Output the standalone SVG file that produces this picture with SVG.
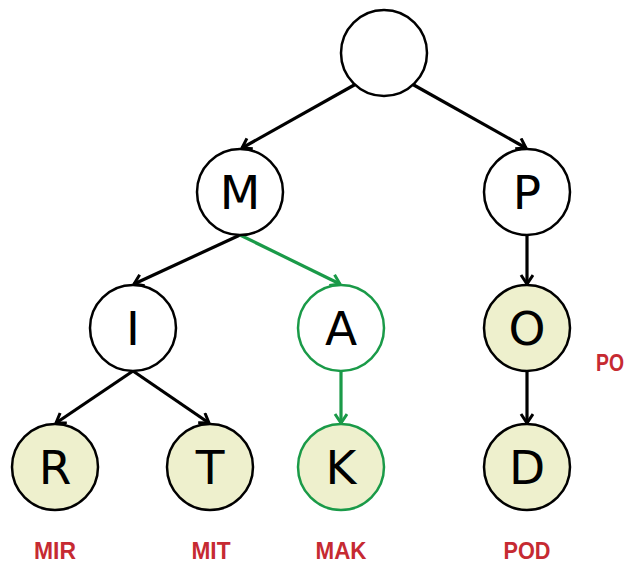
<svg xmlns="http://www.w3.org/2000/svg" width="631" height="563" viewBox="0 0 631 563">
<style>
.n{fill:#fff;stroke:#000;stroke-width:2.5}
.leaf{fill:#eef0cd}
.g{stroke:#1a9a48}
.t{font-family:"DejaVu Sans","Liberation Sans",sans-serif;font-size:47px;text-anchor:middle;fill:#000}
.e{fill:none;stroke:#000;stroke-width:3.2}
.eg{stroke:#1a9a48}
.lbl{font-family:"Liberation Sans Narrow","Liberation Sans",sans-serif;font-weight:bold;font-size:24px;fill:#c62a32;text-anchor:middle}
</style>
<defs>
<marker id="ab" markerUnits="userSpaceOnUse" markerWidth="16" markerHeight="16" refX="12" refY="7" orient="auto">
<path d="M3,1 L12,7 L3,13" fill="none" stroke="#000" stroke-width="3"/>
</marker>
<marker id="ag" markerUnits="userSpaceOnUse" markerWidth="16" markerHeight="16" refX="12" refY="7" orient="auto">
<path d="M3,1 L12,7 L3,13" fill="none" stroke="#1a9a48" stroke-width="3"/>
</marker>
</defs>
<g id="edges">
<line class="e" x1="356" y1="84" x2="242" y2="148" marker-end="url(#ab)"/>
<line class="e" x1="412" y1="84" x2="526" y2="148" marker-end="url(#ab)"/>
<line class="e" x1="240" y1="235" x2="134" y2="284" marker-end="url(#ab)"/>
<line class="e eg" x1="240" y1="235" x2="340" y2="284" marker-end="url(#ag)"/>
<line class="e" x1="527" y1="235" x2="527" y2="284" marker-end="url(#ab)"/>
<line class="e" x1="133" y1="371" x2="56" y2="423" marker-end="url(#ab)"/>
<line class="e" x1="133" y1="371" x2="209" y2="423" marker-end="url(#ab)"/>
<line class="e eg" x1="341" y1="371" x2="341" y2="423" marker-end="url(#ag)"/>
<line class="e" x1="527" y1="371" x2="527" y2="423" marker-end="url(#ab)"/>
</g>
<g id="root"><circle class="n" cx="384" cy="53" r="43"/></g>
<g id="nM"><circle class="n" cx="240" cy="192" r="43"/><text class="t" x="240" y="209">M</text></g>
<g id="nP"><circle class="n" cx="527" cy="192" r="43"/><text class="t" x="527" y="209">P</text></g>
<g id="nI"><circle class="n" cx="133" cy="328" r="43"/><text class="t" x="133" y="345">I</text></g>
<g id="nA"><circle class="n g" cx="341" cy="328" r="43"/><text class="t" x="341" y="345">A</text></g>
<g id="nO"><circle class="n leaf" cx="527" cy="328" r="43"/><text class="t" x="527" y="345">O</text></g>
<g id="nR"><circle class="n leaf" cx="55" cy="467" r="43"/><text class="t" x="55" y="484">R</text></g>
<g id="nT"><circle class="n leaf" cx="210" cy="467" r="43"/><text class="t" x="210" y="484">T</text></g>
<g id="nK"><circle class="n leaf g" cx="341" cy="467" r="43"/><text class="t" x="341" y="484">K</text></g>
<g id="nD"><circle class="n leaf" cx="527" cy="467" r="43"/><text class="t" x="527" y="484">D</text></g>
<g id="labels">
<text class="lbl" x="55" y="559" textLength="42" lengthAdjust="spacingAndGlyphs">MIR</text>
<text class="lbl" x="211" y="559" textLength="39" lengthAdjust="spacingAndGlyphs">MIT</text>
<text class="lbl" x="341" y="559" textLength="51" lengthAdjust="spacingAndGlyphs">MAK</text>
<text class="lbl" x="527" y="559" textLength="47" lengthAdjust="spacingAndGlyphs">POD</text>
<text class="lbl" x="596" y="371" style="text-anchor:start" textLength="28" lengthAdjust="spacingAndGlyphs">PO</text>
</g>
</svg>
